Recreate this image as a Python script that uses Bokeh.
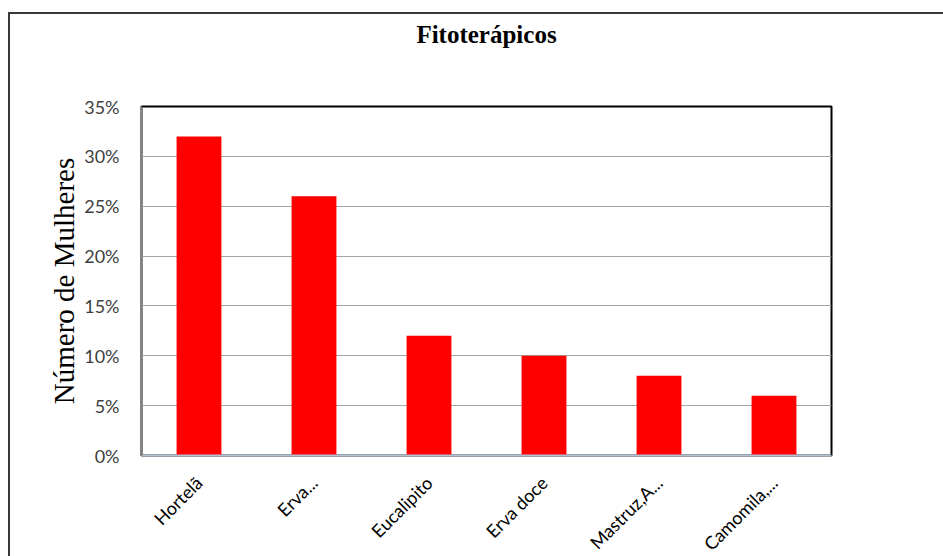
import math
from bokeh.plotting import figure
from bokeh.models import NumeralTickFormatter, FactorRange, Range1d, ColumnDataSource, Title
from bokeh.embed import file_html
from bokeh.resources import INLINE

title_text = "Fitoterápicos"
categories = ["Hortelã", "Erva...", "Eucalipito", "Erva doce", "Mastruz,A...", "Camomila,..."]
values = [0.32, 0.26, 0.12, 0.10, 0.08, 0.06]
y_ticks = [0, 0.05, 0.10, 0.15, 0.20, 0.25, 0.30, 0.35]

src = ColumnDataSource(dict(cat=categories, val=values))

W, H = 935, 552
p = figure(width=W, height=H, output_backend="svg", toolbar_location=None, title=None,
           x_range=FactorRange(*categories, range_padding=0),
           y_range=Range1d(0, 0.35),
           min_border_left=131, min_border_top=92, min_border_right=114, min_border_bottom=111)
p.margin = (12, 0, 0, 8)
p.styles = {"border-left": "2px solid #3a3a3a", "border-top": "2px solid #3a3a3a"}

p.vbar(x="cat", top="val", width=0.39, source=src, fill_color="#ff0000", line_color=None)

# spacer between frame and title, then the title itself
p.add_layout(Title(text=" ", text_font_size="10px", standoff=46), "above")
p.add_layout(Title(text=title_text, align="center", offset=-4, standoff=0,
                   text_font="Liberation Serif", text_font_size="25px",
                   text_font_style="bold", text_color="black"), "above")

p.outline_line_color = "black"
p.outline_line_width = 2
p.background_fill_color = "white"
p.border_fill_color = "white"

p.yaxis.ticker = y_ticks
p.yaxis.formatter = NumeralTickFormatter(format="0%")
p.yaxis.major_tick_line_color = None
p.yaxis.minor_tick_line_color = None
p.yaxis.axis_line_color = "#868686"
p.yaxis.axis_line_width = 2
p.yaxis.major_label_text_font = "Lato"
p.yaxis.major_label_text_font_size = "18px"
p.yaxis.major_label_text_color = "#404040"
p.yaxis.major_label_standoff = 16
p.yaxis.axis_label = "Número de Mulheres"
p.yaxis.axis_label_text_font = "Liberation Serif"
p.yaxis.axis_label_text_font_size = "29px"
p.yaxis.axis_label_text_font_style = "normal"
p.yaxis.axis_label_text_color = "black"
p.yaxis.axis_label_standoff = 1

p.xaxis.major_tick_line_color = None
p.xaxis.minor_tick_line_color = None
p.xaxis.axis_line_color = "#b4c0d4"
p.xaxis.axis_line_width = 2
p.xaxis.major_label_orientation = math.pi / 4
p.xaxis.major_label_text_font = "Lato"
p.xaxis.major_label_text_font_size = "18px"
p.xaxis.major_label_text_color = "black"
p.xaxis.major_label_standoff = 18

p.xgrid.grid_line_color = None
p.ygrid.grid_line_color = "#a6a6a6"
p.ygrid.grid_line_width = 1

open("out.html", "w").write(file_html(p, INLINE))
